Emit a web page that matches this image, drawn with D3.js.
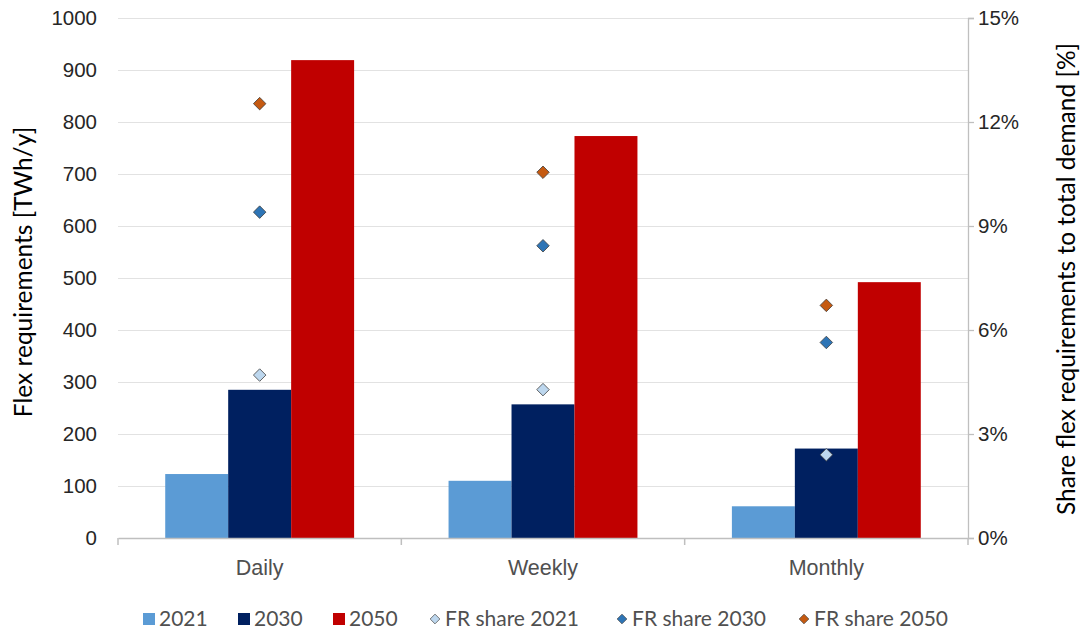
<!DOCTYPE html>
<html>
<head>
<meta charset="utf-8">
<script src="https://cdn.jsdelivr.net/npm/d3@7"></script>
<style>
  html, body { margin: 0; padding: 0; background: #fff; }
  svg { display: block; font-family: Lato, "Open Sans", sans-serif; }
</style>
</head>
<body>
<svg id="chart" width="1081" height="633"></svg>
<script>
// Flexibility requirements per time scale (TWh/y)
const categories = ["Daily", "Weekly", "Monthly"];
const years = ["2021", "2030", "2050"];
const flex2021 = [123, 110, 61];
const flex2030 = [285, 257, 172];
const flex2050 = [919, 773, 492];

// Share of flexibility requirements in total demand (%)
const share2021 = [4.70, 4.28, 2.40];
const share2030 = [9.40, 8.43, 5.64];
const share2050 = [12.53, 10.55, 6.71];

const leftTicks = [0, 100, 200, 300, 400, 500, 600, 700, 800, 900, 1000];
const rightTicks = [0, 3, 6, 9, 12, 15];

const barColors = ["#5b9bd5", "#002060", "#c00000"];
const diamondColors = ["#bdd7ee", "#2e75b6", "#c55a11"];

const svg = d3.select("#chart");
const m = { left: 118, right: 968, top: 18, bottom: 538 };

const x = d3.scaleBand().domain(categories).range([m.left, m.right]).paddingInner(0).paddingOuter(0);
const yL = d3.scaleLinear().domain([0, 1000]).range([m.bottom, m.top]);
const yR = d3.scaleLinear().domain([0, 15]).range([m.bottom, m.top]);

// bars take 1/(1 + 150% gap) of each band
const groupW = x.bandwidth() / 1.5;
const xInner = d3.scaleBand().domain(years).range([0, groupW]).padding(0);

// gridlines
svg.append("g")
  .selectAll("line")
  .data(leftTicks.filter(d => d > 0))
  .join("line")
  .attr("x1", m.left).attr("x2", m.right)
  .attr("y1", d => yL(d) + 0.5).attr("y2", d => yL(d) + 0.5)
  .attr("stroke", "#e2e2e2").attr("stroke-width", 1.2);

// left axis labels
const axL = svg.append("g").attr("transform", `translate(${m.left},0)`)
  .call(d3.axisLeft(yL).tickValues(leftTicks).tickSize(0).tickPadding(21).tickFormat(d3.format("d")));
axL.select(".domain").remove();
axL.selectAll("text").attr("font-size", 20.5).attr("fill", "#262626");

// right axis
const axR = svg.append("g").attr("transform", `translate(${m.right},0)`)
  .call(d3.axisRight(yR).tickValues(rightTicks).tickSize(6).tickPadding(4).tickFormat(d => d + "%"));
axR.select(".domain").attr("stroke", "#bfbfbf").attr("stroke-width", 1.3);
axR.selectAll(".tick line").attr("stroke", "#bfbfbf").attr("stroke-width", 1.3);
axR.selectAll("text").attr("font-size", 20.5).attr("fill", "#262626");

// bars
const series = [flex2021, flex2030, flex2050];
years.forEach((yr, si) => {
  svg.append("g").selectAll("rect")
    .data(categories.map((c, i) => ({ c, v: series[si][i] })))
    .join("rect")
    .attr("x", d => x(d.c) + (x.bandwidth() - groupW) / 2 + xInner(yr))
    .attr("width", xInner.bandwidth())
    .attr("y", d => yL(d.v))
    .attr("height", d => yL(0) - yL(d.v))
    .attr("fill", barColors[si]);
});

// x axis
const axX = svg.append("g").attr("transform", `translate(0,${m.bottom})`)
  .call(d3.axisBottom(x).tickSize(0).tickPadding(22));
axX.select(".domain").attr("stroke", "#bfbfbf").attr("stroke-width", 1.5);
axX.selectAll("text").attr("font-size", 21.5).attr("fill", "#505050");
svg.append("g").selectAll("line")
  .data(d3.range(categories.length + 1))
  .join("line")
  .attr("x1", i => m.left + i * x.bandwidth()).attr("x2", i => m.left + i * x.bandwidth())
  .attr("y1", m.bottom).attr("y2", m.bottom + 7)
  .attr("stroke", "#bfbfbf").attr("stroke-width", 1.5);

// diamonds for shares
const diamond = d3.symbol().type(d3.symbolDiamond2).size(100);
const shares = [share2021, share2030, share2050];
shares.forEach((s, si) => {
  svg.append("g").selectAll("path")
    .data(categories.map((c, i) => ({ c, v: s[i] })))
    .join("path")
    .attr("d", diamond)
    .attr("transform", d => `translate(${x(d.c) + x.bandwidth() / 2},${yR(d.v)})`)
    .attr("fill", diamondColors[si])
    .attr("stroke", "#404040").attr("stroke-width", 0.8);
});

// axis titles
svg.append("text")
  .attr("transform", `translate(32,272) rotate(-90)`)
  .attr("text-anchor", "middle").attr("font-size", 24.5).attr("fill", "#000")
  .text("Flex requirements [TWh/y]");
svg.append("text")
  .attr("transform", `translate(1075,279) rotate(-90)`)
  .attr("text-anchor", "middle").attr("font-size", 24.5).attr("fill", "#000")
  .text("Share flex requirements to total demand [%]");

// legend
const legendItems = [
  { label: "2021", kind: "rect", color: barColors[0], x: 143 },
  { label: "2030", kind: "rect", color: barColors[1], x: 238 },
  { label: "2050", kind: "rect", color: barColors[2], x: 333 },
  { label: "FR share 2021", kind: "diamond", color: diamondColors[0], x: 429 },
  { label: "FR share 2030", kind: "diamond", color: diamondColors[1], x: 616 },
  { label: "FR share 2050", kind: "diamond", color: diamondColors[2], x: 798 }
];
const ly = 619;
const lg = svg.append("g");
legendItems.forEach(it => {
  if (it.kind === "rect") {
    lg.append("rect").attr("x", it.x).attr("y", ly - 6).attr("width", 12).attr("height", 12).attr("fill", it.color);
  } else {
    lg.append("path").attr("d", d3.symbol().type(d3.symbolDiamond2).size(60))
      .attr("transform", `translate(${it.x + 6},${ly})`)
      .attr("fill", it.color).attr("stroke", "#404040").attr("stroke-width", 0.7);
  }
  lg.append("text").attr("x", it.x + 16).attr("y", ly).attr("dy", "0.35em")
    .attr("font-size", 21).attr("fill", "#505050").text(it.label);
});
</script>
</body>
</html>
